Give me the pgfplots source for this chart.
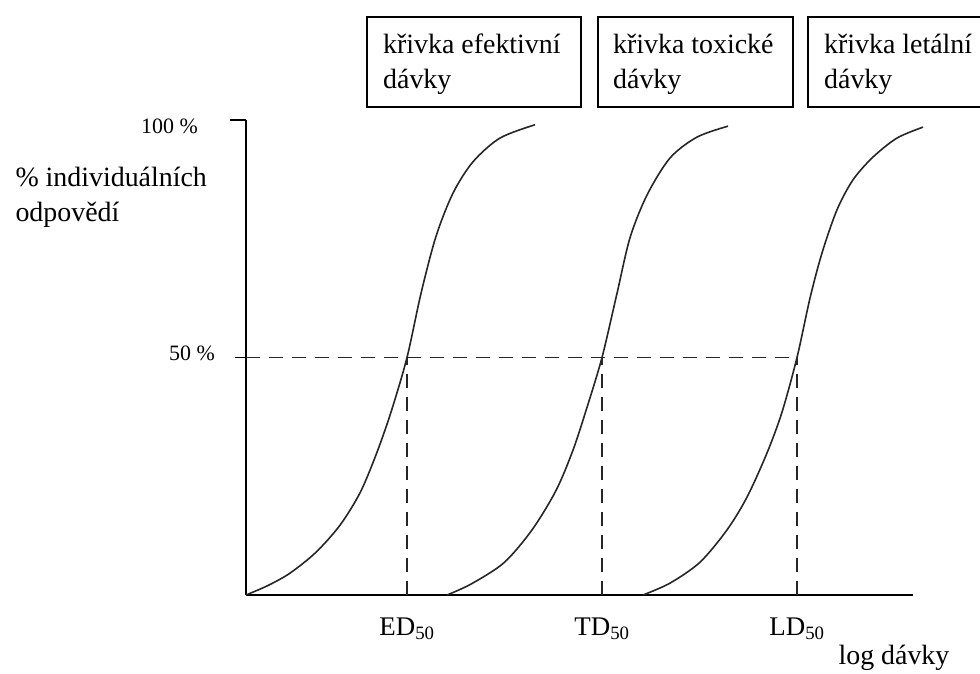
\documentclass[border=0pt]{standalone}
\usepackage{fontspec}
\setmainfont{Liberation Serif}
\usepackage{pgfplots}
\pgfplotsset{compat=1.18}
\begin{document}
\begin{tikzpicture}
\path[use as bounding box] (0bp,0bp) rectangle (980bp,674bp);
\begin{axis}[
  at={(246bp,79bp)}, anchor=south west,
  scale only axis, width=667bp, height=475bp,
  xmin=0, xmax=6.67, ymin=0, ymax=100,
  enlargelimits=false, clip=false,
  axis lines=left,
  axis line style={-, line width=1.9bp, black},
  xtick={1.61,3.56,5.51},
  xticklabels={ED\textsubscript{50},TD\textsubscript{50},LD\textsubscript{50}},
  xtick style={draw=none},
  xticklabel style={font=\fontsize{27}{32}\selectfont, yshift=-8bp},
  ytick={50}, yticklabels={50 \%},
  ytick style={line width=1.9bp, black},
  tick align=center, major tick length=22bp,
  yticklabel style={font=\fontsize{22}{26}\selectfont, anchor=east, inner sep=0pt, xshift=-20bp, yshift=4bp},
  extra y ticks={100}, extra y tick labels={100 \%},
  extra y tick style={tick align=outside, major tick length=16bp,
     yticklabel style={xshift=-12bp, yshift=-10bp}},
  every axis y label/.style={at={(axis cs:0,83.7)}, anchor=west, xshift=-234bp, align=left,
     font=\fontsize{28}{35}\selectfont},
  ylabel={\% individuálních\\odpovědí},
  every axis x label/.style={at={(axis cs:6.48,0)}, anchor=center, yshift=-63bp,
     font=\fontsize{28}{33}\selectfont},
  xlabel={log dávky},
]
% dashed guide lines
\addplot[dash pattern=on 14bp off 9bp, line width=1.8bp, black!85] coordinates {(0,50) (5.51,50)};
\addplot[dash pattern=on 14bp off 9bp, line width=1.8bp, black!85] coordinates {(1.61,0) (1.61,50)};
\addplot[dash pattern=on 14bp off 9bp, line width=1.8bp, black!85] coordinates {(3.56,0) (3.56,50)};
\addplot[dash pattern=on 14bp off 9bp, line width=1.8bp, black!85] coordinates {(5.51,0) (5.51,50)};
% effective dose curve
\addplot[smooth, tension=0.5, line width=1.6bp, black!85] coordinates {
 (0.00,0) (0.22,2.0) (0.44,4.6) (0.70,9.0) (0.94,14.7) (1.14,21.5) (1.30,29.5)
 (1.45,38.5) (1.61,50) (1.75,63.5) (1.90,75.5) (2.07,84.6) (2.27,91.2) (2.54,96.2) (2.89,99.0)};
% toxic dose curve
\addplot[smooth, tension=0.5, line width=1.6bp, black!85] coordinates {
 (2.01,0) (2.25,2.3) (2.58,6.8) (2.86,13.7) (3.10,22.0) (3.27,30.5) (3.41,39.5)
 (3.56,50) (3.71,63.5) (3.84,75.2) (4.01,84.2) (4.24,92.0) (4.51,96.4) (4.82,98.7)};
% lethal dose curve
\addplot[smooth, tension=0.5, line width=1.6bp, black!85] coordinates {
 (3.97,0) (4.24,2.5) (4.54,6.9) (4.81,13.7) (5.01,20.6) (5.21,29.9) (5.36,38.5)
 (5.51,50) (5.64,62.5) (5.76,72.0) (5.91,81.1) (6.07,87.4) (6.27,92.2) (6.51,96.2) (6.77,98.5)};
\end{axis}
% legend boxes
\draw[line width=2.4bp] (367bp,657bp) rectangle (581bp,567bp);
\draw[line width=2.4bp] (598bp,657bp) rectangle (793bp,567bp);
\draw[line width=2.4bp] (808bp,657bp) rectangle (1000bp,567bp);
\node[anchor=west, align=left, inner sep=0pt, font=\fontsize{28}{35}\selectfont] at (383bp,610bp) {křivka efektivní\\dávky};
\node[anchor=west, align=left, inner sep=0pt, font=\fontsize{28}{35}\selectfont] at (613bp,610bp) {křivka toxické\\dávky};
\node[anchor=west, align=left, inner sep=0pt, font=\fontsize{28}{35}\selectfont] at (824bp,610bp) {křivka letální\\dávky};
\end{tikzpicture}
\end{document}
